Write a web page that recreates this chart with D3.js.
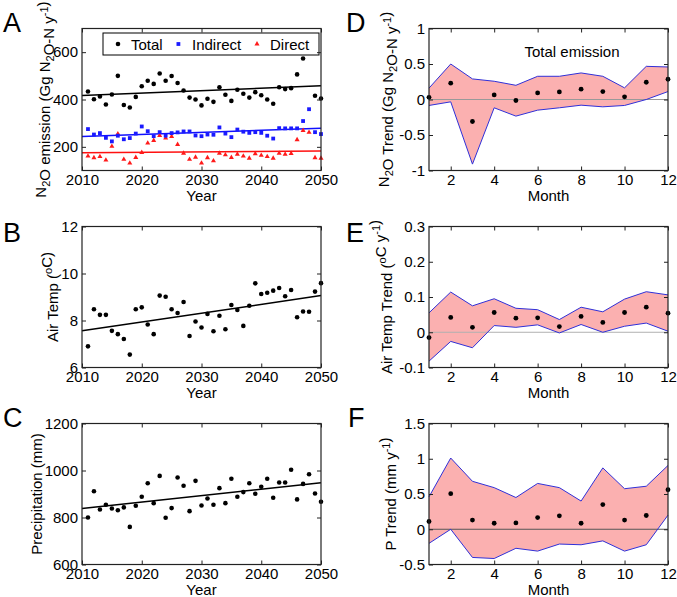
<!DOCTYPE html>
<html lang="en">
<head>
    <meta charset="UTF-8">
    <title>N2O emission, air temperature and precipitation trends</title>
    <script src="https://cdnjs.cloudflare.com/ajax/libs/d3/7.8.5/d3.min.js"></script>
    <style>
        html, body { margin: 0; padding: 0; background: #fff; }
        svg { display: block; font-family: "Liberation Sans", Arial, sans-serif; }
    </style>
</head>
<body>
    <div id="chart"></div>

    <script>
        // ---- data ----
        const years = [2011, 2012, 2013, 2014, 2015, 2016, 2017, 2018, 2019, 2020,
                       2021, 2022, 2023, 2024, 2025, 2026, 2027, 2028, 2029, 2030,
                       2031, 2032, 2033, 2034, 2035, 2036, 2037, 2038, 2039, 2040,
                       2041, 2042, 2043, 2044, 2045, 2046, 2047, 2048, 2049, 2050];

        const totalN2O = [434, 401, 413, 379, 421, 500, 377, 366, 411, 456,
                          479, 466, 510, 479, 499, 470, 438, 408, 400, 375,
                          403, 390, 452, 420, 394, 441, 424, 408, 431, 418,
                          400, 382, 452, 444, 448, 506, 573, 620, 416, 404];
        const indirectN2O = [275, 252, 258, 238, 223, 247, 232, 237, 256, 286,
                             266, 245, 262, 247, 258, 261, 265, 265, 248, 245,
                             252, 251, 282, 256, 241, 273, 264, 259, 262, 259,
                             247, 235, 279, 278, 278, 278, 309, 359, 262, 254];
        const directN2O = [161, 154, 159, 144, 202, 255, 147, 131, 155, 176,
                           216, 227, 248, 237, 244, 210, 173, 147, 156, 131,
                           154, 141, 173, 166, 155, 169, 161, 152, 171, 164,
                           159, 152, 173, 169, 172, 230, 269, 261, 154, 152];
        const airTemp = [6.90, 8.48, 8.24, 8.24, 7.56, 7.42, 7.21, 6.55, 8.48, 8.56,
                         7.83, 7.42, 9.06, 9.01, 8.48, 8.32, 8.79, 7.34, 7.96, 7.70,
                         8.28, 7.54, 8.20, 7.63, 8.66, 8.45, 7.77, 8.63, 9.58, 9.13,
                         9.18, 9.27, 9.38, 9.03, 9.30, 8.14, 8.38, 8.37, 9.23, 9.59];
        const precip = [800, 912, 834, 854, 838, 831, 843, 760, 850, 888,
                        946, 861, 977, 799, 840, 970, 935, 827, 956, 851,
                        881, 854, 925, 861, 965, 888, 908, 946, 901, 931,
                        965, 884, 949, 949, 1003, 877, 943, 984, 902, 867];

        // linear fit end points (values at 2010 and 2050)
        const fitYears = [2010, 2050];
        const fitTotal = [417, 458];
        const fitIndirect = [244, 279];
        const fitDirect = [175, 182];
        const fitTemp = [7.56, 9.06];
        const fitPrecip = [838, 948];

        const months = [1, 2, 3, 4, 5, 6, 7, 8, 9, 10, 11, 12];
        const n2oTrend = [0.03, 0.23, -0.31, 0.065, -0.014, 0.093, 0.107, 0.145, 0.112, 0.037, 0.243, 0.285];
        const n2oUpper = [0.16, 0.50, 0.29, 0.257, 0.20, 0.327, 0.327, 0.374, 0.327, 0.164, 0.467, 0.458];
        const n2oLower = [-0.084, -0.033, -0.91, -0.117, -0.234, -0.15, -0.117, -0.08, -0.103, -0.084, 0.0, 0.112];

        const tempTrend = [-0.015, 0.042, 0.014, 0.056, 0.040, 0.041, 0.016, 0.045, 0.028, 0.056, 0.071, 0.054];
        const tempUpper = [0.055, 0.114, 0.075, 0.095, 0.068, 0.064, 0.036, 0.071, 0.058, 0.094, 0.115, 0.106];
        const tempLower = [-0.082, -0.026, -0.044, 0.019, 0.014, 0.021, -0.002, 0.022, 0.0, 0.017, 0.026, 0.003];

        const pTrend = [0.11, 0.505, 0.13, 0.085, 0.09, 0.165, 0.19, 0.085, 0.35, 0.13, 0.195, 0.56];
        const pUpper = [0.46, 1.01, 0.68, 0.59, 0.45, 0.65, 0.59, 0.40, 0.87, 0.575, 0.61, 0.905];
        const pLower = [-0.20, 0.0, -0.40, -0.415, -0.27, -0.31, -0.21, -0.22, -0.165, -0.31, -0.22, 0.20];

        const yearTicks = [2010, 2020, 2030, 2040, 2050];
        const monthTicks = [2, 4, 6, 8, 10, 12];

        // ---- layout ----
        const FONT = "'Liberation Sans', Arial, sans-serif";
        const leftX = [82, 321];
        const rightX = [429, 668];
        const rows = [[28.5, 170.5], [226.5, 367.5], [423.5, 564.5]];

        const svg = d3.select("#chart")
            .append("svg")
            .attr("width", 677)
            .attr("height", 597);

        // draws the MATLAB-style box with inward ticks on all four sides
        function frame(x, y, xTickVals, yTickVals) {
            const [x0, x1] = x.range();
            const [y1, y0] = y.range();
            const g = svg.append("g");
            const fmt = d => String(d);

            g.append("g")
                .attr("transform", `translate(0,${y1})`)
                .call(d3.axisBottom(x).tickValues(xTickVals).tickSize(-4).tickPadding(4).tickFormat(fmt));
            g.append("g")
                .attr("transform", `translate(0,${y0})`)
                .call(d3.axisTop(x).tickValues(xTickVals).tickSize(-4).tickFormat(""));
            g.append("g")
                .attr("transform", `translate(${x0},0)`)
                .call(d3.axisLeft(y).tickValues(yTickVals).tickSize(-4).tickPadding(4).tickFormat(fmt));
            g.append("g")
                .attr("transform", `translate(${x1},0)`)
                .call(d3.axisRight(y).tickValues(yTickVals).tickSize(-4).tickFormat(""));

            g.selectAll(".domain").remove();
            g.selectAll(".tick line").attr("stroke", "#222").attr("stroke-width", 1);
            g.selectAll(".tick text")
                .attr("font-family", FONT)
                .attr("font-size", 15)
                .attr("fill", "#000");

            g.append("rect")
                .attr("x", x0).attr("y", y0)
                .attr("width", x1 - x0).attr("height", y1 - y0)
                .attr("fill", "none")
                .attr("stroke", "#222")
                .attr("stroke-width", 1.2);
            return g;
        }

        // text with sub/superscript parts
        function richText(sel, parts) {
            parts.forEach(p => {
                if (p.sub) {
                    sel.append("tspan").attr("dy", 4).attr("font-size", 11).text(p.sub);
                    sel.append("tspan").attr("dy", -4).text("");
                } else if (p.sup) {
                    sel.append("tspan").attr("dy", -6).attr("font-size", 11).text(p.sup);
                    sel.append("tspan").attr("dy", 6).text("");
                } else {
                    sel.append("tspan").text(p.t);
                }
            });
        }

        function yTitle(x, yMid, parts) {
            const t = svg.append("text")
                .attr("transform", `translate(${x},${yMid}) rotate(-90)`)
                .attr("text-anchor", "middle")
                .attr("font-family", FONT)
                .attr("font-size", 15)
                .attr("fill", "#000");
            richText(t, parts);
        }

        function xTitle(xMid, y, label) {
            svg.append("text")
                .attr("x", xMid).attr("y", y)
                .attr("text-anchor", "middle")
                .attr("font-family", FONT)
                .attr("font-size", 15)
                .attr("fill", "#000")
                .text(label);
        }

        function panelLetter(x, y, letter) {
            svg.append("text")
                .attr("x", x).attr("y", y)
                .attr("font-family", FONT)
                .attr("font-size", 27)
                .attr("fill", "#000")
                .text(letter);
        }

        function dots(x, xs, y, vals, r, color) {
            svg.append("g").selectAll("circle")
                .data(vals)
                .join("circle")
                .attr("cx", (d, i) => x(xs[i]))
                .attr("cy", d => y(d))
                .attr("r", r)
                .attr("fill", color);
        }

        function fitLine(x, y, vals, color) {
            svg.append("line")
                .attr("x1", x(fitYears[0])).attr("y1", y(vals[0]))
                .attr("x2", x(fitYears[1])).attr("y2", y(vals[1]))
                .attr("stroke", color)
                .attr("stroke-width", 1.5);
        }

        // ---- Panel A: N2O emission ----
        const xA = d3.scaleLinear().domain([2010, 2050]).range(leftX);
        const yA = d3.scaleLinear().domain([100, 700]).range([rows[0][1], rows[0][0]]);

        fitLine(xA, yA, fitTotal, "#000");
        fitLine(xA, yA, fitIndirect, "#1010ff");
        fitLine(xA, yA, fitDirect, "#ff1010");

        svg.append("g").selectAll("path")
            .data(directN2O)
            .join("path")
            .attr("d", d3.symbol(d3.symbolTriangle).size(11))
            .attr("transform", (d, i) => `translate(${xA(years[i])},${yA(d)})`)
            .attr("fill", "#ff1a1a");

        svg.append("g").selectAll("rect")
            .data(indirectN2O)
            .join("rect")
            .attr("x", (d, i) => xA(years[i]) - 1.9)
            .attr("y", d => yA(d) - 1.9)
            .attr("width", 3.8).attr("height", 3.8)
            .attr("fill", "#1a1aff");

        dots(xA, years, yA, totalN2O, 2.3, "#000");

        // legend (opaque, as in the original)
        const leg = svg.append("g");
        leg.append("rect")
            .attr("x", 103).attr("y", 33)
            .attr("width", 216).attr("height", 22)
            .attr("fill", "#fff")
            .attr("stroke", "#000")
            .attr("stroke-width", 1);
        leg.append("circle").attr("cx", 118).attr("cy", 44).attr("r", 2.3).attr("fill", "#000");
        leg.append("rect").attr("x", 176.5).attr("y", 42.1).attr("width", 3.8).attr("height", 3.8).attr("fill", "#1a1aff");
        leg.append("path")
            .attr("d", d3.symbol(d3.symbolTriangle).size(11))
            .attr("transform", "translate(257,44)")
            .attr("fill", "#ff1a1a");
        [["Total", 131], ["Indirect", 192], ["Direct", 270]].forEach(([t, x]) => {
            leg.append("text")
                .attr("x", x).attr("y", 49.5)
                .attr("font-family", FONT)
                .attr("font-size", 15)
                .text(t);
        });

        frame(xA, yA, yearTicks, [200, 400, 600]);

        // ---- Panel B: air temperature ----
        const xB = d3.scaleLinear().domain([2010, 2050]).range(leftX);
        const yB = d3.scaleLinear().domain([6, 12]).range([rows[1][1], rows[1][0]]);
        fitLine(xB, yB, fitTemp, "#000");
        dots(xB, years, yB, airTemp, 2.3, "#000");
        frame(xB, yB, yearTicks, [6, 8, 10, 12]);

        // ---- Panel C: precipitation ----
        const xC = d3.scaleLinear().domain([2010, 2050]).range(leftX);
        const yC = d3.scaleLinear().domain([600, 1200]).range([rows[2][1], rows[2][0]]);
        fitLine(xC, yC, fitPrecip, "#000");
        dots(xC, years, yC, precip, 2.3, "#000");
        frame(xC, yC, yearTicks, [600, 800, 1000, 1200]);

        // ---- right column: monthly trends with bands ----
        function bandPanel(row, domain, yTicks, trend, upper, lower, zeroColor) {
            const x = d3.scaleLinear().domain([1, 12]).range(rightX);
            const y = d3.scaleLinear().domain(domain).range([rows[row][1], rows[row][0]]);

            const area = d3.area()
                .x((d, i) => x(months[i]))
                .y0((d, i) => y(lower[i]))
                .y1((d, i) => y(upper[i]));
            svg.append("path")
                .datum(upper)
                .attr("d", area)
                .attr("fill", "#fbb0b0");

            svg.append("line")
                .attr("x1", x(1)).attr("x2", x(12))
                .attr("y1", y(0)).attr("y2", y(0))
                .attr("stroke", zeroColor)
                .attr("stroke-width", 1);

            const line = d3.line().x((d, i) => x(months[i])).y(d => y(d));
            [upper, lower].forEach(arr => {
                svg.append("path")
                    .datum(arr)
                    .attr("d", line)
                    .attr("fill", "none")
                    .attr("stroke", "#3030d8")
                    .attr("stroke-width", 1);
            });

            dots(x, months, y, trend, 2.4, "#000");
            frame(x, y, monthTicks, yTicks);
        }

        bandPanel(0, [-1, 1], [-1, -0.5, 0, 0.5, 1], n2oTrend, n2oUpper, n2oLower, "#999");
        bandPanel(1, [-0.1, 0.3], [-0.1, 0, 0.1, 0.2, 0.3], tempTrend, tempUpper, tempLower, "#b0b0b0");
        bandPanel(2, [-0.5, 1.5], [-0.5, 0, 0.5, 1, 1.5], pTrend, pUpper, pLower, "#555");

        svg.append("text")
            .attr("x", 572).attr("y", 57)
            .attr("text-anchor", "middle")
            .attr("font-family", FONT)
            .attr("font-size", 15)
            .text("Total emission");

        // ---- titles ----
        rows.forEach(r => {
            xTitle((leftX[0] + leftX[1]) / 2, r[1] + 30, "Year");
            xTitle((rightX[0] + rightX[1]) / 2, r[1] + 30, "Month");
        });

        yTitle(46, 99.5, [{t: "N"}, {sub: "2"}, {t: "O emission (Gg N"}, {sub: "2"}, {t: "O-N y"}, {sup: "-1"}, {t: ")"}]);
        yTitle(58, 297, [{t: "Air Temp ("}, {sup: "o"}, {t: "C)"}]);
        yTitle(42, 494, [{t: "Precipitation (mm)"}]);
        yTitle(389, 99.5, [{t: "N"}, {sub: "2"}, {t: "O Trend (Gg N"}, {sub: "2"}, {t: "O-N y"}, {sup: "-1"}, {t: ")"}]);
        yTitle(392, 297, [{t: "Air Temp Trend ("}, {sup: "o"}, {t: "C y"}, {sup: "-1"}, {t: ")"}]);
        yTitle(396, 494, [{t: "P Trend (mm y"}, {sup: "-1"}, {t: ")"}]);

        panelLetter(3, 32, "A");
        panelLetter(3, 242, "B");
        panelLetter(3, 427, "C");
        panelLetter(346, 32, "D");
        panelLetter(346, 242, "E");
        panelLetter(348, 427, "F");
    </script>
</body>
</html>
